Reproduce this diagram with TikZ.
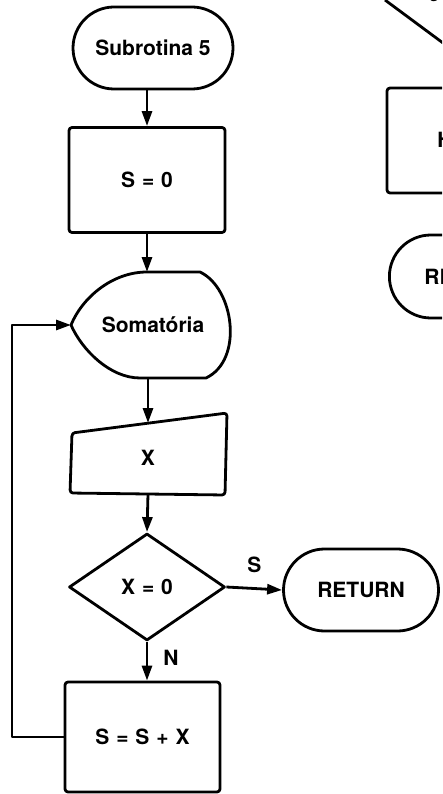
\documentclass[tikz,border=0pt]{standalone}
\usepackage{fontspec}
\setmainfont{TeX Gyre Heros}
\usetikzlibrary{shapes.geometric,shapes.misc,arrows.meta}
\newcommand{\wsp}{\hspace{0.33em}}
\begin{document}
\begin{tikzpicture}[x=1pt,y=-1pt,
  line width=2.8pt, line join=round,
  every node/.style={font=\fontsize{21}{25}\selectfont\bfseries},
  box/.style={draw, rectangle, rounded corners=3pt, inner sep=0pt},
  term/.style={draw, rounded rectangle, inner sep=0pt},
  decision/.style={draw, diamond, inner sep=0pt},
  arr/.style={-{Triangle[length=15pt,width=10pt]}},
  lbl/.style={inner sep=2pt}
]
\useasboundingbox (0,0) rectangle (442,794);

% main column
\node[term, minimum width=160pt, minimum height=82pt] (start) at (153,48) {Subrotina 5};
\node[box, minimum width=156pt, minimum height=105pt] (init) at (147,180) {S\wsp=\wsp0};

% display symbol
\draw (147,272) -- (200,272)
  .. controls (234,288) and (244,360) .. (206,378)
  -- (140,378)
  .. controls (110,378) and (82,350) .. (71,325)
  .. controls (82,298) and (112,272) .. (147,272) -- cycle;
\node (disp) at (153,325) {Somatória};
\coordinate (disp-n) at (147,272);
\coordinate (disp-s) at (148,378);
\coordinate (disp-w) at (71,325);

% manual input
\draw[rounded corners=3pt] (72,433) -- (227,413) -- (225,495) -- (70,493) -- cycle;
\node (man) at (148,458) {X};
\coordinate (man-n) at (148,423);
\coordinate (man-s) at (148,494);

\node[decision, minimum width=156pt, minimum height=107pt] (dec) at (147,587) {X\wsp=\wsp0};
\node[term, minimum width=155pt, minimum height=82pt] (ret) at (361,590) {RETURN};
\node[box, minimum width=155pt, minimum height=110pt] (sum) at (142.5,737) {S\wsp=\wsp S\wsp+\wsp X};
\coordinate (lp) at (12,0);

% connectors
\draw[arr] (start.south -| init.north) -- (init.north);
\draw[arr] (init.south) -- (disp-n);
\draw[arr] (disp-s) -- (man-n);
\draw[arr] (man-s) -- (dec.north);
\draw[arr] (dec.east) -- node[lbl, above=12pt] {S} (ret.west);
\draw[arr] (dec.south) -- node[lbl, pos=0.4, right=13pt] {N} (dec.south |- sum.north);
\draw[arr] (sum.west) -- (sum.west -| lp) |- (disp-w);

% neighbouring flowchart, cut by the page edge
\begin{scope}
  \clip (0,0) rectangle (442,794);
  \draw (385,0) -- (470,63);
  \node[anchor=base, inner sep=0pt] (frag-top) at (434,2) {0};
  \draw[rounded corners=3pt] (387,88) rectangle (540,193);
  \node[anchor=west, inner sep=0pt] (frag-h) at (436,140) {H};
  \node[term, minimum width=160pt, minimum height=83pt, anchor=west] (frag-term) at (388,276.5) {};
  \node[anchor=west, inner sep=0pt] (frag-ret) at (423,277) {RETURN};
\end{scope}
\end{tikzpicture}
\end{document}
